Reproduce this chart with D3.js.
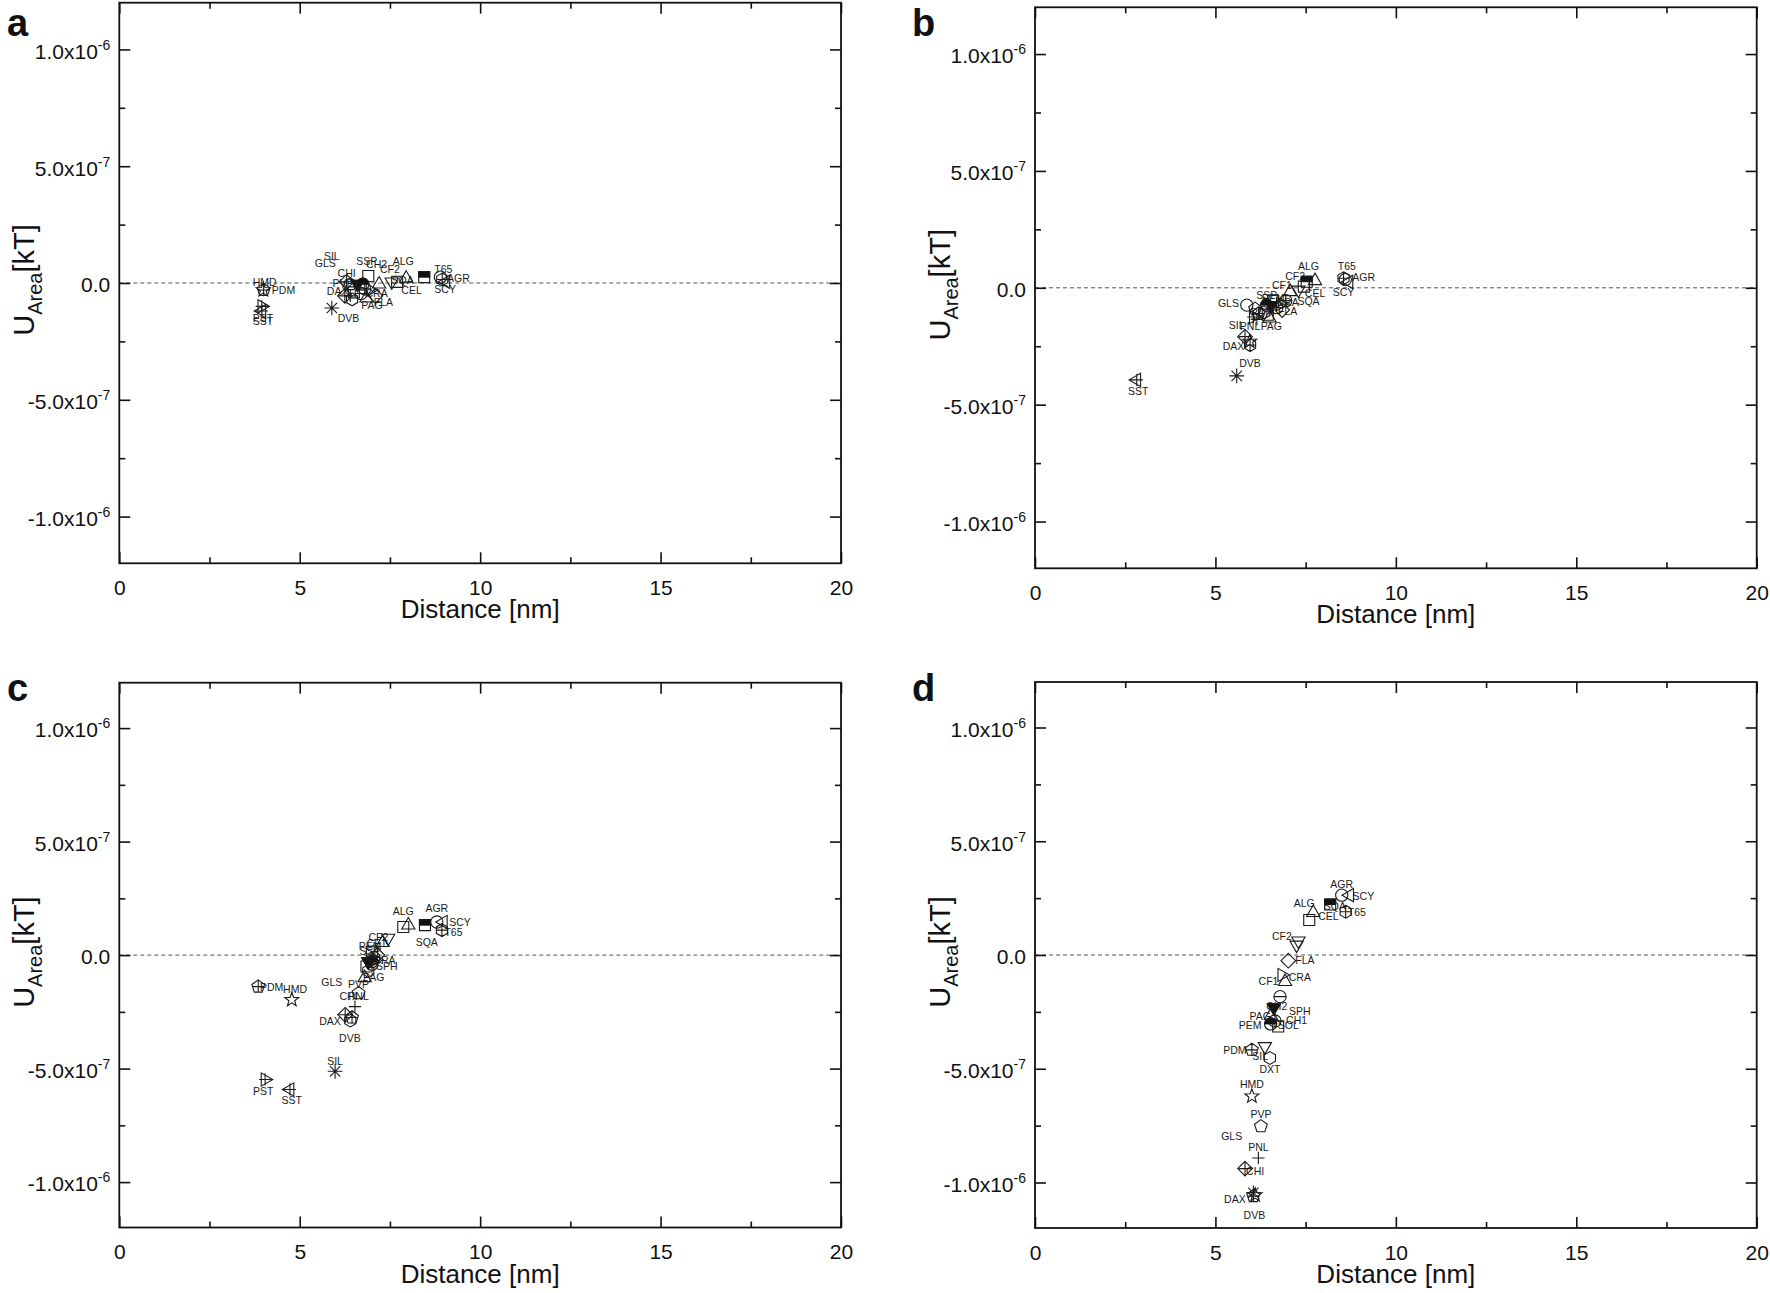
<!DOCTYPE html>
<html><head><meta charset="utf-8">
<script src="https://cdn.jsdelivr.net/npm/d3@7"></script>
<style>
body{margin:0;background:#fff}
svg{display:block}
text{font-family:"Liberation Sans",Arial,Helvetica,sans-serif}
</style>
</head><body>
<svg id="chart" width="1770" height="1293"></svg>
<script>
// ---------- axes data (y values in units of 1e-7 kT) ----------
const xDomain = [0, 20];
const yDomain = [-12, 12];
const xTickMajor = [0, 5, 10, 15, 20];
const xTickMinor = [2.5, 7.5, 12.5, 17.5];
const xTickLabels = ["0", "5", "10", "15", "20"];
const yTickMajor = [-10, -5, 0, 5, 10];
const yTickMinor = [-7.5, -2.5, 2.5, 7.5];
const yTickMant = ["-1.0x10", "-5.0x10", "0.0", "5.0x10", "1.0x10"];
const yTickExp = ["-6", "-7", "", "-7", "-6"];
const xTitle = "Distance [nm]";

// ---------- panel a ----------
const namesA = ["HMD","PDM","PST","SST","SIL","GLS","CHI","SSP","CH2","CF2","ALG","PVP","PEM","SQA","CEL","T65","AGR","SCY","PAG","FLA","CRA","DAX","DVB","DXT","SPH","SOL","PNL","CF1","CH1"];
const xA = [3.99,4.00,3.95,3.95,5.95,5.80,6.30,6.90,6.60,7.55,7.95,6.40,6.75,8.45,7.70,8.95,8.90,9.05,6.85,7.10,6.95,6.25,5.89,6.45,6.70,6.50,6.40,7.20,6.80];
const yA = [-0.30,-0.30,-1.00,-1.20,0.95,0.75,0.05,0.30,-0.05,0.05,0.20,-0.05,-0.05,0.25,0.05,0.15,0.25,0.05,-0.65,-0.55,-0.30,-0.55,-1.07,-0.70,-0.45,-0.40,-0.55,-0.05,-0.25];
const symA = ["star","pentagonPlus","triRightPlus","triLeftPlus","none","none","diamondPlus","square","filledTriDown","triDown","triUp","pentagon","halfCircle","halfSquare","square","hexPlus","circle","triLeft","triUp","diamond","triRight","diamondPlus","asterisk","hexagon","circleMinus","square","plus","triUp","circlePlus"];
const lxA = [4.03,4.55,3.98,3.98,5.89,5.71,6.30,6.86,7.13,7.50,7.87,6.20,null,7.85,8.10,8.98,9.40,9.03,7.00,7.32,7.13,6.05,6.35,null,null,null,null,null,null];
const lyA = [0.05,-0.32,-1.52,-1.62,1.14,0.85,0.40,0.92,0.78,0.60,0.92,0.00,null,0.12,-0.33,0.60,0.21,-0.29,-0.97,-0.83,-0.43,-0.34,-1.50,null,null,null,null,null,null];

// ---------- panel b ----------
const namesB = ["SST","DVB","CHI","DAX","HMD","SIL","PNL","PAG","GLS","PVP","PDM","PST","PEM","CH2","SSP","SPH","DXT","SOL","CRA","FLA","CH1","CF1","CF2","SQA","CEL","ALG","T65","AGR","SCY"];
const xB = [2.82,5.59,5.82,5.96,5.95,5.70,6.15,6.50,5.87,6.10,6.20,6.05,6.42,6.55,6.60,6.70,6.35,6.45,6.80,6.85,6.95,7.07,7.30,7.53,7.45,7.76,8.55,8.60,8.70];
const yB = [-3.94,-3.77,-2.09,-2.45,-2.30,-1.50,-1.35,-1.30,-0.74,-0.90,-1.10,-1.25,-0.74,-0.75,-0.55,-0.85,-1.05,-1.15,-0.70,-0.95,-0.55,-0.17,-0.09,0.26,0.05,0.30,0.41,0.35,0.25];
const symB = ["triLeftPlus","asterisk","diamondPlus","hexPlus","star","none","plus","triUp","circle","pentagon","pentagonPlus","triRightPlus","halfCircle","filledTriDown","square","circleMinus","hexagon","square","triRight","diamond","circlePlus","triUp","triDown","halfSquare","square","triUp","hexPlus","circle","triLeft"];
const lxB = [2.86,5.96,null,5.50,null,5.59,5.96,6.55,5.36,null,6.30,null,6.60,null,6.42,null,null,null,7.00,7.00,null,6.84,7.21,7.58,7.76,7.58,8.64,9.11,8.55];
const lyB = [-4.44,-3.23,null,-2.49,null,-1.59,-1.63,-1.63,-0.66,null,-1.05,null,-0.45,null,-0.31,null,null,null,-0.60,-1.02,null,0.12,0.47,-0.59,-0.24,0.93,0.90,0.43,-0.21];

// ---------- panel c ----------
const namesC = ["PDM","HMD","PST","SST","SIL","DAX","DVB","CHI","PNL","PVP","GLS","PAG","SPH","CH2","PEM","DXT","SOL","CRA","FLA","CH1","SSP","CF1","CF2","CEL","ALG","SQA","AGR","SCY","T65"];
const xC = [3.85,4.78,4.04,4.73,5.98,6.26,6.40,6.45,6.53,6.63,6.70,6.80,7.00,6.90,7.00,6.90,6.85,7.10,7.15,7.05,7.00,7.30,7.45,7.87,8.01,8.47,8.80,8.98,8.94];
const yC = [-1.39,-1.97,-5.48,-5.92,-5.12,-2.63,-2.88,-2.75,-2.27,-1.68,-1.25,-1.00,-0.40,-0.29,-0.29,-0.70,-0.50,-0.20,0.00,-0.10,0.15,0.55,0.75,1.24,1.32,1.32,1.46,1.46,1.10];
const symC = ["pentagonPlus","star","triRightPlus","triLeftPlus","asterisk","diamondPlus","hexagon","pentagonPlus","plus","pentagon","none","triUp","circleMinus","filledTriDown","halfCircle","hexagon","square","triRight","diamond","circlePlus","square","triUp","triDown","square","triUp","halfSquare","circle","triLeft","hexPlus"];
const lxC = [4.22,4.87,3.99,4.78,5.98,5.84,6.39,6.35,6.63,6.63,5.89,7.05,7.41,null,6.95,null,null,7.35,null,null,6.95,7.13,7.18,null,7.87,8.52,8.80,9.44,9.26];
const lyC = [-1.42,-1.49,-6.00,-6.39,-4.68,-2.92,-3.65,-1.80,-1.80,-1.29,-1.22,-0.98,-0.48,null,0.40,null,null,-0.25,null,null,0.15,0.51,0.80,null,1.94,0.58,2.05,1.46,1.02];

// ---------- panel d ----------
const namesD = ["AGR","SCY","SQA","T65","ALG","CEL","CF2","SSP","FLA","CRA","CF1","SPH","CH2","PAG","PEM","SOL","CH1","PDM","SIL","DXT","HMD","PVP","GLS","PNL","CHI","DAX","DVB","PST"];
const xD = [8.50,8.72,8.18,8.61,7.71,7.60,7.25,7.30,7.02,6.84,6.93,6.79,6.62,6.54,6.53,6.74,6.65,6.01,6.37,6.51,6.01,6.26,5.45,6.19,5.82,6.05,6.05,6.10];
const yD = [2.63,2.63,2.22,1.90,1.86,1.54,0.44,0.62,-0.25,-0.88,-1.17,-1.83,-2.31,-2.66,-3.03,-3.14,-2.90,-4.17,-4.02,-4.53,-6.21,-7.53,-7.97,-8.92,-9.39,-10.60,-10.45,-10.55];
const symD = ["circle","triLeft","halfSquare","hexPlus","triUp","square","triDown","triDown","diamond","triRight","triUp","circleMinus","filledTriDown","triUp","halfCircle","square","circlePlus","pentagonPlus","triDown","hexagon","star","pentagon","none","plus","diamondPlus","pentagonPlus","asterisk","star"];
const lxD = [8.50,9.10,8.31,8.92,7.46,8.13,6.84,null,7.48,7.34,6.47,7.34,6.70,6.24,5.96,7.02,7.25,5.54,6.24,6.51,6.01,6.26,5.45,6.19,6.10,5.54,6.08,null];
const lyD = [3.11,2.59,2.15,1.86,2.27,1.71,0.83,null,-0.25,-0.98,-1.17,-2.49,-2.27,-2.68,-3.07,-3.07,-2.88,-4.17,-4.46,-5.01,-5.67,-7.02,-7.97,-8.45,-9.50,-10.75,-11.45,null];

// ---------- layout ----------
const panels = [
  {letter:"a", left:119.3, right:841, top:2.7, bottom:563.3, lX:7, lY:36,
   names:namesA, xs:xA, ys:yA, syms:symA, lxs:lxA, lys:lyA},
  {letter:"b", left:1035, right:1756.7, top:7.3, bottom:568.3, lX:912, lY:36,
   names:namesB, xs:xB, ys:yB, syms:symB, lxs:lxB, lys:lyB},
  {letter:"c", left:119.3, right:841, top:682.7, bottom:1227.5, lX:7, lY:701,
   names:namesC, xs:xC, ys:yC, syms:symC, lxs:lxC, lys:lyC},
  {letter:"d", left:1035, right:1756.7, top:682, bottom:1228, lX:912, lY:701,
   names:namesD, xs:xD, ys:yD, syms:symD, lxs:lxD, lys:lyD}
];

// ---------- symbol shapes ----------
const D2R = Math.PI/180;
function regPoly(c, n, R, a0){
  for(let i=0;i<n;i++){
    const a=a0+i*2*Math.PI/n, px=R*Math.cos(a), py=R*Math.sin(a);
    if(i===0) c.moveTo(px,py); else c.lineTo(px,py);
  }
  c.closePath();
}
const shapes = {
  circle:(c,r)=>{c.moveTo(r,0);c.arc(0,0,r,0,2*Math.PI);c.closePath();},
  square:(c,r)=>{const s=r*0.9;c.rect(-s,-s,2*s,2*s);},
  triUp:(c,r)=>regPoly(c,3,r*1.25,-90*D2R),
  triDown:(c,r)=>regPoly(c,3,r*1.25,90*D2R),
  triLeft:(c,r)=>regPoly(c,3,r*1.25,180*D2R),
  triRight:(c,r)=>regPoly(c,3,r*1.25,0),
  diamond:(c,r)=>regPoly(c,4,r*1.2,-90*D2R),
  pentagon:(c,r)=>regPoly(c,5,r*1.1,-90*D2R),
  hexagon:(c,r)=>regPoly(c,6,r*1.05,-90*D2R),
  star:(c,r)=>{
    for(let i=0;i<10;i++){
      const a=-90*D2R+i*36*D2R, R=(i%2)?r*0.5:r*1.2;
      const px=R*Math.cos(a), py=R*Math.sin(a);
      if(i===0) c.moveTo(px,py); else c.lineTo(px,py);
    }
    c.closePath();
  },
  plus:(c,r)=>{c.moveTo(-r,0);c.lineTo(r,0);c.moveTo(0,-r);c.lineTo(0,r);},
  hline:(c,r)=>{c.moveTo(-r,0);c.lineTo(r,0);},
  asterisk:(c,r)=>{
    const R=r*1.2;
    [0,45,90,135].forEach(a=>{const dx=R*Math.cos(a*D2R), dy=R*Math.sin(a*D2R);c.moveTo(-dx,-dy);c.lineTo(dx,dy);});
  },
  topHalfSquare:(c,r)=>{const s=r*0.9;c.rect(-s,-s,2*s,s);},
  topHalfCircle:(c,r)=>{c.moveTo(-r,0);c.arc(0,0,r,Math.PI,2*Math.PI);c.closePath();}
};
const symbolDefs = {
  none:{o:[]},
  circle:{o:["circle"]}, square:{o:["square"]},
  triUp:{o:["triUp"]}, triDown:{o:["triDown"]}, triLeft:{o:["triLeft"]}, triRight:{o:["triRight"]},
  diamond:{o:["diamond"]}, pentagon:{o:["pentagon"]}, hexagon:{o:["hexagon"]},
  star:{o:["star"]}, plus:{o:["plus"]}, asterisk:{o:["asterisk"]},
  pentagonPlus:{o:["pentagon","plus"]}, hexPlus:{o:["hexagon","plus"]},
  diamondPlus:{o:["diamond","plus"]}, circlePlus:{o:["circle","plus"]},
  triLeftPlus:{o:["triLeft","plus"]}, triRightPlus:{o:["triRight","plus"]},
  circleMinus:{o:["circle","hline"]},
  halfSquare:{o:["square"], f:["topHalfSquare"]},
  halfCircle:{o:["circle"], f:["topHalfCircle"]},
  filledTriDown:{o:["triDown"], f:["triDown"]}
};
function symType(parts){
  return {draw(ctx,size){const r=Math.sqrt(size)/2; parts.forEach(p=>shapes[p](ctx,r));}};
}
const SYM_SIZE = 150;

// ---------- drawing ----------
const svg = d3.select("#chart");
svg.append("rect").attr("width",1770).attr("height",1293).attr("fill","#fff");

panels.forEach(P=>{
  const x = d3.scaleLinear().domain(xDomain).range([P.left, P.right]);
  const y = d3.scaleLinear().domain(yDomain).range([P.bottom, P.top]);
  const g = svg.append("g");

  // zero dashed line
  g.append("line")
    .attr("x1",x(xDomain[0])).attr("x2",x(xDomain[1]))
    .attr("y1",y(0)).attr("y2",y(0))
    .attr("stroke","#555").attr("stroke-width",1).attr("stroke-dasharray","4,3");

  // axes with inward ticks
  const axStyle = sel => { sel.select(".domain").remove(); sel.selectAll("line").attr("stroke","#111").attr("stroke-width",1.6); };
  const gxb = g.append("g").attr("transform",`translate(0,${P.bottom})`)
    .call(d3.axisBottom(x).tickValues(xTickMajor).tickSizeInner(-11).tickSizeOuter(0).tickPadding(17)
      .tickFormat((d,i)=>xTickLabels[i]));
  axStyle(gxb);
  gxb.selectAll("text").attr("font-size",21).attr("fill","#111")
     .attr("font-family",'"Liberation Sans",Arial,sans-serif');
  axStyle(g.append("g").attr("transform",`translate(0,${P.bottom})`)
    .call(d3.axisBottom(x).tickValues(xTickMinor).tickSizeInner(-6).tickSizeOuter(0).tickFormat("")));
  axStyle(g.append("g").attr("transform",`translate(0,${P.top})`)
    .call(d3.axisTop(x).tickValues(xTickMajor).tickSizeInner(-11).tickSizeOuter(0).tickFormat("")));
  axStyle(g.append("g").attr("transform",`translate(0,${P.top})`)
    .call(d3.axisTop(x).tickValues(xTickMinor).tickSizeInner(-6).tickSizeOuter(0).tickFormat("")));

  const gyl = g.append("g").attr("transform",`translate(${P.left},0)`)
    .call(d3.axisLeft(y).tickValues(yTickMajor).tickSizeInner(-11).tickSizeOuter(0).tickPadding(9)
      .tickFormat(d=>""));
  axStyle(gyl);
  gyl.selectAll(".tick text").each(function(d){
    const i = yTickMajor.indexOf(d);
    const t = d3.select(this).attr("font-size",21).attr("fill","#111").attr("dy","0.42em")
      .attr("font-family",'"Liberation Sans",Arial,sans-serif');
    t.text(null);
    t.append("tspan").text(yTickMant[i]);
    if(yTickExp[i]) t.append("tspan").attr("dy",-9).attr("font-size",14).text(yTickExp[i]);
  });
  axStyle(g.append("g").attr("transform",`translate(${P.left},0)`)
    .call(d3.axisLeft(y).tickValues(yTickMinor).tickSizeInner(-6).tickSizeOuter(0).tickFormat("")));
  axStyle(g.append("g").attr("transform",`translate(${P.right},0)`)
    .call(d3.axisRight(y).tickValues(yTickMajor).tickSizeInner(-11).tickSizeOuter(0).tickFormat("")));
  axStyle(g.append("g").attr("transform",`translate(${P.right},0)`)
    .call(d3.axisRight(y).tickValues(yTickMinor).tickSizeInner(-6).tickSizeOuter(0).tickFormat("")));

  // frame
  g.append("rect").attr("x",P.left).attr("y",P.top)
    .attr("width",P.right-P.left).attr("height",P.bottom-P.top)
    .attr("fill","none").attr("stroke","#111").attr("stroke-width",1.8);

  // titles
  g.append("text").attr("x",(P.left+P.right)/2).attr("y",P.bottom+55)
    .attr("text-anchor","middle").attr("font-size",26).attr("fill","#111").text(xTitle);
  const cy = (P.top+P.bottom)/2 - 3, tx = P.left-95;
  const yt = g.append("text").attr("transform",`translate(${tx},${cy}) rotate(-90)`)
    .attr("text-anchor","middle").attr("dy","0.35em").attr("font-size",29).attr("fill","#111");
  yt.append("tspan").text("U");
  yt.append("tspan").attr("font-size",20).attr("dy",8).text("Area");
  yt.append("tspan").attr("dy",-8).text("[kT]");

  // panel letter
  g.append("text").attr("x",P.lX).attr("y",P.lY).attr("font-size",38)
    .attr("font-weight","bold").attr("fill","#111").text(P.letter);

  // points
  const data = P.names.map((n,i)=>({n, x:P.xs[i], y:P.ys[i], s:P.syms[i], lx:P.lxs[i], ly:P.lys[i]}));
  const pg = g.append("g");
  data.forEach(d=>{
    const def = symbolDefs[d.s];
    const gp = pg.append("g").attr("transform",`translate(${x(d.x)},${y(d.y)})`);
    if(def.f) gp.append("path").attr("d", d3.symbol().type(symType(def.f)).size(SYM_SIZE)())
      .attr("fill","#111").attr("stroke","#111").attr("stroke-width",1);
    if(def.o.length) gp.append("path").attr("d", d3.symbol().type(symType(def.o)).size(SYM_SIZE)())
      .attr("fill","none").attr("stroke","#1a1a1a").attr("stroke-width",1.1);
  });
  data.filter(d=>d.lx!==null).forEach(d=>{
    pg.append("text").attr("x",x(d.lx)).attr("y",y(d.ly)).attr("dy","0.35em")
      .attr("text-anchor","middle").attr("font-size",10.5).attr("fill","#1a1a1a").text(d.n);
  });
});
</script>
</body></html>
